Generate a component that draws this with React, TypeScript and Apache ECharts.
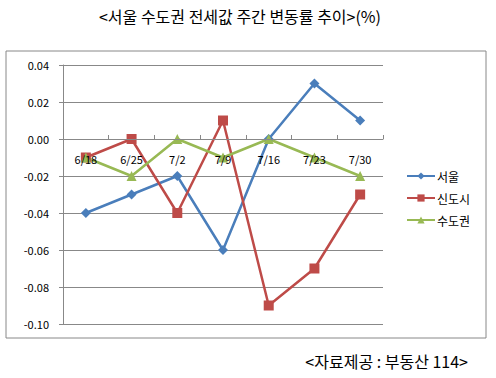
import React, { useEffect, useRef } from "react";
import * as echarts from "echarts";

const categories = ["6/18", "6/25", "7/2", "7/9", "7/16", "7/23", "7/30"];
const seoul = [-0.04, -0.03, -0.02, -0.06, 0.0, 0.03, 0.01];
const newTowns = [-0.01, 0.0, -0.04, 0.01, -0.09, -0.07, -0.03];
const capitalArea = [-0.01, -0.02, 0.0, -0.01, 0.0, -0.01, -0.02];
const seriesNames = ["서울", "신도시", "수도권"];
const titleText = "<서울 수도권 전세값 주간 변동률 추이>(%)";
const sourceText = "<자료제공 : 부동산 114>";

const FONT = "'Noto Sans CJK KR', 'DejaVu Sans', sans-serif";
const Y_MIN = -0.1;
const Y_MAX = 0.04;
const GRID_TOP = 65;
const GRID_BOTTOM = 54;
const H = 378;

export default function App() {
  const ref = useRef<HTMLDivElement>(null);
  useEffect(() => {
    if (!ref.current) return;
    const chart = echarts.init(ref.current, undefined, { renderer: "svg" });
    const plotH = H - GRID_TOP - GRID_BOTTOM;
    const zeroOffset = -Math.round(((0 - Y_MIN) / (Y_MAX - Y_MIN)) * plotH);
    const mk = (name: string, data: number[], color: string, symbol: string, size: number) => ({
      name,
      type: "line",
      data,
      symbol,
      symbolSize: size,
      lineStyle: { color, width: 2.5 },
      itemStyle: { color },
    });
    chart.setOption({
      animation: false,
      backgroundColor: "#fff",
      textStyle: { fontFamily: FONT },
      grid: { left: 63, right: 113, top: GRID_TOP, bottom: GRID_BOTTOM },
      graphic: [
        {
          type: "rect",
          shape: { x: 6, y: 51, width: 480, height: 287 },
          style: { fill: "none", stroke: "#888", lineWidth: 1 },
          z: -1,
        },
        {
          type: "text",
          x: 240,
          y: 16,
          style: {
            text: titleText,
            fontSize: 16,
            fontFamily: FONT,
            fill: "#000",
            align: "center",
            verticalAlign: "middle",
          },
        },
        {
          type: "text",
          x: 468,
          y: 361,
          style: {
            text: sourceText,
            fontSize: 16,
            fontFamily: FONT,
            fill: "#000",
            align: "right",
            verticalAlign: "middle",
          },
        },
      ],
      legend: {
        orient: "vertical",
        left: 401,
        top: 165,
        itemWidth: 28,
        itemHeight: 9,
        itemGap: 10,
        data: seriesNames,
        textStyle: { fontSize: 12, color: "#000", fontFamily: FONT, padding: [0, 0, 0, -3] },
      },
      xAxis: {
        type: "category",
        data: categories,
        boundaryGap: true,
        offset: zeroOffset,
        z: 5,
        axisLine: { onZero: false, lineStyle: { color: "#888" } },
        axisTick: { show: true, inside: true, length: 4, lineStyle: { color: "#888" } },
        axisLabel: { color: "#000", fontSize: 11, margin: 14, fontFamily: FONT },
        splitLine: { show: false },
      },
      yAxis: {
        type: "value",
        min: Y_MIN,
        max: Y_MAX,
        interval: 0.02,
        axisLine: { show: true, lineStyle: { color: "#888" } },
        axisTick: { show: true, length: 4, lineStyle: { color: "#888" } },
        axisLabel: {
          color: "#000",
          fontSize: 11,
          margin: 14,
          fontFamily: FONT,
          formatter: (v: number) => v.toFixed(2),
        },
        splitLine: { show: true, lineStyle: { color: "#888" } },
      },
      series: [
        mk(seriesNames[0], seoul, "#4A7EBB", "diamond", 10),
        mk(seriesNames[1], newTowns, "#BE4B48", "rect", 10),
        mk(seriesNames[2], capitalArea, "#98B954", "triangle", 10),
      ],
    });
    return () => chart.dispose();
  }, []);
  return (
    <div
      ref={ref}
      style={{ position: "fixed", left: 0, top: 0, width: 496, height: 378, background: "#fff" }}
    />
  );
}
